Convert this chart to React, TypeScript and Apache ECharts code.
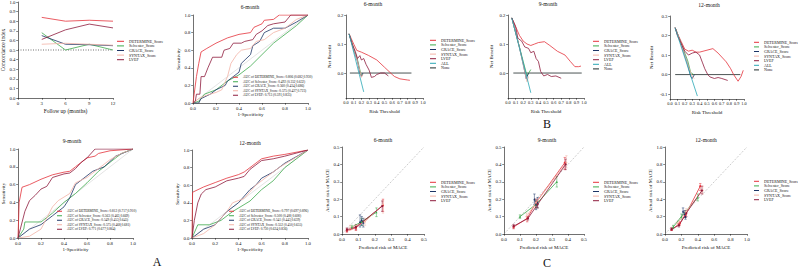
import React, { useEffect, useRef } from "react";
import * as echarts from "echarts";

const FONT = '"Liberation Serif", "Times New Roman", serif';

// ---------- colours ----------
const C_DET = "#e5323b";
const C_SEL = "#3daa4c";
const C_GRA = "#1d3566";
const C_SYN = "#f3b3a6";
const C_LVEF = "#8e1b3c";
const C_ALL = "#2aa7b5";
const C_NONE = "#1e2a2a";

// ---------- names ----------
const modelNames = ["DETERMINE_Score", "Selvester_Score", "GRACE_Score", "SYNTAX_Score", "LVEF"];
const dcaNames = ["DETERMINE_Score", "Selvester_Score", "GRACE_Score", "SYNTAX_Score", "LVEF", "ALL", "None"];
const roc6Names = [
  "AUC of DETERMINE_Score: 0.806 (0.682,0.930)",
  "AUC of Selvester_Score: 0.492 (0.352,0.632)",
  "AUC of GRACE_Score: 0.560 (0.434,0.686)",
  "AUC of SYNTAX_Score: 0.575 (0.427,0.723)",
  "AUC of LVEF: 0.713 (0.591,0.835)",
];
const roc9Names = [
  "AUC of DETERMINE_Score: 0.812 (0.717,0.910)",
  "AUC of Selvester_Score: 0.563 (0.463,0.669)",
  "AUC of GRACE_Score: 0.549 (0.453,0.645)",
  "AUC of SYNTAX_Score: 0.575 (0.468,0.681)",
  "AUC of LVEF: 0.771 (0.677,0.864)",
];
const roc12Names = [
  "AUC of DETERMINE_Score: 0.797 (0.697,0.896)",
  "AUC of Selvester_Score: 0.500 (0.400,0.600)",
  "AUC of GRACE_Score: 0.541 (0.443,0.639)",
  "AUC of SYNTAX_Score: 0.552 (0.450,0.655)",
  "AUC of LVEF: 0.730 (0.624,0.836)",
];

// ---------- tick values ----------
const dcaXTicks = [0, 0.1, 0.2, 0.3, 0.4, 0.5, 0.6, 0.7, 0.8, 0.9, 1.0];
const dcaYTicks = [0, 0.1, 0.2];
const dca12YTicks = [-0.1, 0, 0.1, 0.2, 0.3];

// ---------- concordance index ----------
const cMonths = [3, 6, 9, 12];
const cDetermine = [0.84, 0.8, 0.81, 0.8];
const cSelvester = [0.68, 0.5, 0.56, 0.5];
const cGrace = [0.65, 0.56, 0.555, 0.545];
const cSyntax = [0.56, 0.57, 0.56, 0.55];
const cLvef = [0.61, 0.71, 0.77, 0.73];
const cRef = [[0, 0.5], [12, 0.5]];

// ---------- ROC 6-month ----------
const roc6Det = [[0,0],[0.01,0.1],[0.03,0.3],[0.05,0.45],[0.07,0.58],[0.12,0.62],[0.2,0.68],[0.3,0.74],[0.4,0.78],[0.5,0.8],[0.53,0.86],[0.6,0.9],[0.62,0.94],[0.7,0.95],[0.75,1],[1,1]];
const roc6Sel = [[0,0],[0.05,0.02],[0.1,0.1],[0.2,0.15],[0.3,0.25],[0.4,0.32],[0.5,0.42],[0.6,0.55],[0.7,0.68],[0.8,0.78],[0.9,0.88],[1,1]];
const roc6Gra = [[0,0],[0.05,0],[0.07,0.05],[0.15,0.1],[0.2,0.15],[0.28,0.2],[0.3,0.25],[0.35,0.3],[0.4,0.35],[0.42,0.45],[0.46,0.5],[0.5,0.55],[0.52,0.65],[0.58,0.7],[0.62,0.8],[0.7,0.85],[0.8,0.85],[0.9,0.92],[1,1]];
const roc6Syn = [[0,0],[0.05,0.05],[0.1,0.08],[0.2,0.12],[0.25,0.15],[0.3,0.3],[0.33,0.45],[0.38,0.55],[0.42,0.6],[0.5,0.62],[0.55,0.7],[0.62,0.72],[0.7,0.8],[0.8,0.85],[0.9,0.95],[1,1]];
const roc6Lvef = [[0,0],[0.02,0.02],[0.03,0.1],[0.06,0.1],[0.07,0.3],[0.1,0.3],[0.13,0.4],[0.17,0.52],[0.25,0.52],[0.27,0.6],[0.32,0.62],[0.35,0.68],[0.42,0.68],[0.45,0.7],[0.52,0.72],[0.55,0.78],[0.6,0.82],[0.65,0.88],[0.7,0.9],[0.8,0.92],[0.85,1],[1,1]];

// ---------- ROC 9-month ----------
const roc9Det = [[0,0],[0.01,0.4],[0.035,0.57],[0.1,0.6],[0.2,0.66],[0.3,0.71],[0.4,0.74],[0.45,0.75],[0.5,0.8],[0.55,0.85],[0.6,0.9],[0.67,0.92],[0.7,0.95],[0.8,0.98],[1,1]];
const roc9Sel = [[0,0],[0.05,0.1],[0.06,0.18],[0.2,0.18],[0.3,0.28],[0.4,0.4],[0.5,0.5],[0.6,0.62],[0.7,0.75],[0.8,0.85],[0.9,0.95],[1,1]];
const roc9Gra = [[0,0],[0.1,0.1],[0.2,0.15],[0.3,0.25],[0.4,0.35],[0.45,0.45],[0.5,0.6],[0.55,0.65],[0.65,0.75],[0.75,0.8],[0.85,0.92],[1,1]];
const roc9Syn = [[0,0],[0.1,0.02],[0.2,0.1],[0.3,0.35],[0.35,0.42],[0.45,0.5],[0.5,0.62],[0.6,0.68],[0.7,0.78],[0.8,0.88],[0.9,0.95],[1,1]];
const roc9Lvef = [[0,0],[0.02,0.1],[0.06,0.3],[0.1,0.42],[0.15,0.48],[0.2,0.55],[0.25,0.58],[0.3,0.68],[0.4,0.72],[0.45,0.73],[0.5,0.78],[0.55,0.85],[0.6,0.9],[0.67,1],[1,1]];

// ---------- ROC 12-month ----------
const roc12Det = [[0,0],[0.005,0.52],[0.1,0.58],[0.2,0.63],[0.3,0.68],[0.4,0.72],[0.45,0.75],[0.5,0.8],[0.55,0.85],[0.6,0.9],[0.7,0.93],[0.8,0.95],[1,1]];
const roc12Sel = [[0,0],[0.05,0.15],[0.15,0.15],[0.25,0.2],[0.35,0.3],[0.5,0.42],[0.6,0.55],[0.7,0.65],[0.8,0.8],[0.9,0.9],[1,1]];
const roc12Gra = [[0,0],[0.1,0.1],[0.2,0.15],[0.3,0.3],[0.4,0.4],[0.5,0.55],[0.55,0.6],[0.6,0.68],[0.7,0.75],[0.8,0.85],[1,1]];
const roc12Syn = [[0,0],[0.1,0.05],[0.2,0.15],[0.3,0.3],[0.35,0.4],[0.45,0.45],[0.55,0.6],[0.65,0.7],[0.75,0.8],[0.85,0.88],[1,1]];
const roc12Lvef = [[0,0],[0.02,0.2],[0.05,0.4],[0.08,0.5],[0.12,0.55],[0.2,0.58],[0.3,0.65],[0.4,0.68],[0.45,0.7],[0.5,0.78],[0.6,0.88],[0.7,0.9],[0.8,0.93],[1,1]];
const rocDiag = [[0,0],[1,1]];

// ---------- DCA 6-month ----------
const dca6Det = [[0.04,0.135],[0.1,0.1],[0.14,0.078],[0.2,0.072],[0.29,0.061],[0.4,0.045],[0.5,0.02],[0.6,-0.005],[0.63,-0.012],[0.7,-0.02],[0.8,-0.024],[0.83,-0.025]];
const dca6Sel = [[0.04,0.135],[0.1,0.085],[0.15,0.045],[0.19,0.0],[0.21,-0.01]];
const dca6Gra = [[0.04,0.135],[0.1,0.08],[0.15,0.04],[0.18,0.0],[0.2,-0.012],[0.22,0.0]];
const dca6Syn = [[0.04,0.135],[0.1,0.082],[0.15,0.04],[0.2,-0.015],[0.22,-0.005]];
const dca6Lvef = [[0.04,0.135],[0.08,0.1],[0.12,0.075],[0.15,0.05],[0.18,0.06],[0.2,0.045],[0.23,0.05],[0.26,0.03],[0.3,0.01],[0.33,-0.015],[0.37,-0.012],[0.4,-0.005],[0.45,0.0],[0.5,0.0],[0.55,-0.01]];
const dca6All = [[0.04,0.135],[0.23,-0.065]];
const dca6None = [[0.05,0],[0.85,0]];

// ---------- DCA 9-month ----------
const dca9Det = [[0.05,0.19],[0.1,0.16],[0.15,0.13],[0.2,0.11],[0.25,0.1],[0.3,0.095],[0.35,0.1],[0.4,0.105],[0.48,0.108],[0.55,0.095],[0.65,0.075],[0.75,0.062],[0.82,0.04],[0.88,0.022],[0.93,0.022],[0.96,0.024]];
const dca9Sel = [[0.05,0.19],[0.1,0.14],[0.15,0.09],[0.2,0.04],[0.25,-0.01],[0.3,0.012]];
const dca9Gra = [[0.05,0.19],[0.1,0.14],[0.15,0.09],[0.2,0.03],[0.24,-0.02],[0.27,0.0]];
const dca9Syn = [[0.05,0.19],[0.1,0.14],[0.15,0.088],[0.2,0.03],[0.25,-0.03],[0.27,-0.012]];
const dca9Lvef = [[0.05,0.19],[0.1,0.16],[0.13,0.12],[0.18,0.11],[0.22,0.09],[0.27,0.085],[0.3,0.07],[0.34,0.075],[0.37,0.05],[0.4,0.04],[0.43,0.005],[0.47,-0.01],[0.52,-0.005],[0.57,-0.012],[0.63,-0.01],[0.7,-0.018]];
const dca9All = [[0.05,0.19],[0.3,-0.068]];
const dca9None = [[0.07,0],[0.97,0]];

// ---------- DCA 12-month ----------
const dca12Det = [[0.07,0.24],[0.1,0.21],[0.15,0.17],[0.2,0.13],[0.25,0.12],[0.3,0.125],[0.35,0.115],[0.4,0.115],[0.5,0.125],[0.58,0.133],[0.65,0.11],[0.76,0.065],[0.82,0.03],[0.86,0.0],[0.92,-0.034],[0.96,-0.01],[0.99,0.022]];
const dca12Sel = [[0.07,0.24],[0.12,0.19],[0.18,0.13],[0.24,0.07],[0.28,0.01],[0.32,0.0]];
const dca12Gra = [[0.07,0.24],[0.12,0.19],[0.18,0.12],[0.24,0.05],[0.28,-0.01],[0.3,-0.02],[0.33,0.0]];
const dca12Syn = [[0.07,0.24],[0.12,0.19],[0.18,0.12],[0.25,0.04],[0.3,-0.01],[0.33,-0.02]];
const dca12Lvef = [[0.07,0.24],[0.1,0.2],[0.15,0.16],[0.2,0.12],[0.25,0.1],[0.3,0.11],[0.35,0.115],[0.4,0.1],[0.44,0.06],[0.47,0.03],[0.51,0.0],[0.54,-0.012],[0.6,-0.02],[0.65,-0.015],[0.7,-0.02],[0.78,-0.03]];
const dca12All = [[0.067,0.24],[0.37,-0.11]];
const dca12None = [[0.07,0],[0.95,0]];

// ---------- calibration [predicted, observed, lower, upper] ----------
const cal6Det = [[0.03,0.02,0.01,0.03],[0.085,0.035,0.02,0.05],[0.25,0.165,0.13,0.2]];
const cal6Sel = [[0.06,0.04,0.03,0.05],[0.12,0.07,0.05,0.09],[0.21,0.125,0.1,0.15]];
const cal6Gra = [[0.11,0.07,0.04,0.11],[0.12,0.08,0.05,0.1],[0.13,0.065,0.04,0.09]];
const cal6Syn = [[0.05,0.035,0.02,0.05],[0.14,0.07,0.05,0.09],[0.25,0.17,0.12,0.19]];
const cal6Lvef = [[0.03,0.025,0.015,0.035],[0.085,0.04,0.025,0.055],[0.245,0.16,0.13,0.19]];

const cal9Det = [[0.06,0.04,0.03,0.05],[0.145,0.09,0.07,0.1],[0.2,0.18,0.15,0.2],[0.38,0.41,0.37,0.44]];
const cal9Sel = [[0.1,0.1,0.09,0.11],[0.2,0.17,0.15,0.19],[0.33,0.3,0.27,0.33]];
const cal9Gra = [[0.19,0.2,0.17,0.23],[0.2,0.17,0.14,0.2],[0.21,0.18,0.15,0.21]];
const cal9Syn = [[0.14,0.1,0.08,0.12],[0.2,0.18,0.16,0.2],[0.39,0.41,0.38,0.45]];
const cal9Lvef = [[0.06,0.045,0.035,0.055],[0.15,0.09,0.08,0.1],[0.21,0.17,0.15,0.19],[0.385,0.4,0.37,0.43]];

const cal12Det = [[0.08,0.05,0.04,0.07],[0.18,0.12,0.1,0.14],[0.25,0.22,0.19,0.25],[0.43,0.55,0.5,0.58]];
const cal12Sel = [[0.1,0.08,0.06,0.1],[0.2,0.2,0.17,0.23],[0.4,0.42,0.38,0.46]];
const cal12Gra = [[0.22,0.26,0.22,0.3],[0.24,0.23,0.19,0.27],[0.25,0.2,0.17,0.23]];
const cal12Syn = [[0.15,0.12,0.1,0.14],[0.26,0.26,0.23,0.29],[0.46,0.5,0.46,0.55]];
const cal12Lvef = [[0.08,0.055,0.04,0.07],[0.17,0.1,0.08,0.12],[0.26,0.24,0.2,0.27],[0.45,0.5,0.46,0.55]];
const calDiag05 = [[0,0],[0.5,0.5]];
const calDiag1 = [[0,0],[1,1]];

// ---------- helpers ----------
const f1 = (v: number) => v.toFixed(1);
const f0 = (v: number) => String(Math.round(v));

function axis(gi: number, min: number, max: number, interval: number | undefined, name: string, nameGap: number, fmt: any, custom?: number[], labelSize = 4.8, nameSize = 5) {
  const a: any = {
    type: "value", gridIndex: gi, min, max, name, nameLocation: "middle", nameGap,
    nameTextStyle: { fontSize: nameSize, fontFamily: FONT, color: "#111" },
    axisLine: { show: true, onZero: false, lineStyle: { color: "#111", width: 0.6 } },
    axisTick: { show: true, length: 1.8, lineStyle: { color: "#111", width: 0.5 } },
    axisLabel: { fontSize: labelSize, fontFamily: FONT, color: "#111", margin: 2.5, formatter: fmt },
    splitLine: { show: false },
  };
  if (interval !== undefined) a.interval = interval;
  if (custom) {
    a.axisTick.customValues = custom;
    a.axisLabel.customValues = custom;
  }
  return a;
}

function ln(name: string | undefined, data: any[], color: string, gi: number, extra: any = {}) {
  return {
    type: "line", name, data, xAxisIndex: gi, yAxisIndex: gi, symbol: "none", showSymbol: false,
    silent: true, lineStyle: { color, width: 0.8 }, itemStyle: { color }, z: 3, ...extra,
  };
}

function calSeries(name: string, data: number[][], color: string, gi: number, symbol: string) {
  return [
    ln(name, data.map((d) => [d[0], d[1]]), color, gi, { symbol, symbolSize: 2.2, showSymbol: true }),
    {
      type: "custom", xAxisIndex: gi, yAxisIndex: gi, data, silent: true, z: 2,
      encode: { x: 0, y: [1, 2, 3] },
      renderItem: (_p: any, api: any) => {
        const x = api.value(0), lo = api.value(2), hi = api.value(3);
        const a = api.coord([x, lo]);
        const b = api.coord([x, hi]);
        const w = 1.2;
        const st = { stroke: color, lineWidth: 0.5 };
        return {
          type: "group",
          children: [
            { type: "line", shape: { x1: a[0], y1: a[1], x2: b[0], y2: b[1] }, style: st },
            { type: "line", shape: { x1: a[0] - w, y1: a[1], x2: a[0] + w, y2: a[1] }, style: st },
            { type: "line", shape: { x1: b[0] - w, y1: b[1], x2: b[0] + w, y2: b[1] }, style: st },
          ],
        };
      },
    },
  ];
}

function legend(names: string[], left: number, top: number, size = 4, step = 4.6, iw = 7) {
  return {
    data: names, left, top, orient: "vertical", itemWidth: iw, itemHeight: 1, itemGap: 0, icon: "rect",
    padding: 0, selectedMode: false,
    textStyle: { fontSize: size, lineHeight: step, fontFamily: FONT, color: "#111" },
  };
}

function txt(text: string, x: number, y: number, size: number) {
  return {
    type: "text", x, y, silent: true,
    style: { text, fontSize: size, fontFamily: FONT, fill: "#111", align: "center", verticalAlign: "middle" },
  };
}

function buildOption() {
  const grids = [
    { left: 18, top: 2, width: 95, height: 96 },
    { left: 193, top: 15, width: 115, height: 88 },
    { left: 346, top: 15, width: 77, height: 83 },
    { left: 508, top: 15, width: 76, height: 83 },
    { left: 670, top: 16, width: 74, height: 83 },
    { left: 18, top: 149, width: 115, height: 89 },
    { left: 192, top: 150, width: 116, height: 88 },
    { left: 342, top: 147, width: 82, height: 87 },
    { left: 504, top: 147, width: 80, height: 87 },
    { left: 665, top: 147, width: 82, height: 87 },
  ].map((g) => ({ ...g, containLabel: false, outerBoundsMode: "none", show: false }));

  const xAxis = [
    axis(0, 0, 12, 3, "Follow up (months)", 10, f0, undefined, 4.8, 5.5),
    axis(1, 0, 1, 0.2, "1-Specificity", 9, f1),
    axis(2, 0, 1, undefined, "Risk Threshold", 11, f1, dcaXTicks, 4.3),
    axis(3, 0, 1, undefined, "Risk Threshold", 11, f1, dcaXTicks, 4.3),
    axis(4, 0, 1, undefined, "Risk Threshold", 11, f1, dcaXTicks, 4.3),
    axis(5, 0, 1, 0.2, "1-Specificity", 9, f1),
    axis(6, 0, 1, 0.2, "1-Specificity", 9, f1),
    axis(7, 0, 0.5, 0.1, "Predicted risk of MACE", 11, f1),
    axis(8, 0, 0.5, 0.1, "Predicted risk of MACE", 11, f1),
    axis(9, 0, 1, 0.2, "Predicted risk of MACE", 11, f1),
  ];
  const yAxis = [
    axis(0, 0, 1, 0.1, "Concordance index", 11, f1, undefined, 4.8, 5.5),
    axis(1, 0, 1, 0.2, "Sensitivity", 11, f1),
    axis(2, -0.086, 0.2, undefined, "Net Benefit", 14, f1, dcaYTicks),
    axis(3, -0.086, 0.2, undefined, "Net Benefit", 14, f1, dcaYTicks),
    axis(4, -0.125, 0.3, undefined, "Net Benefit", 16, f1, dca12YTicks),
    axis(5, 0, 1, 0.2, "Sensitivity", 11, f1),
    axis(6, 0, 1, 0.2, "Sensitivity", 11, f1),
    axis(7, 0, 0.5, 0.1, "Actual risk of MACE", 12, f1),
    axis(8, 0, 0.5, 0.1, "Actual risk of MACE", 12, f1),
    axis(9, 0, 1, 0.2, "Actual risk of MACE", 12, f1),
  ];

  const z = (xs: number[], ys: number[]) => xs.map((x, i) => [x, ys[i]]);
  const series: any[] = [];
  // C-index
  series.push(ln(undefined, cRef, "#111", 0, { lineStyle: { color: "#111", width: 0.6, type: [1, 1.5] }, z: 1 }));
  series.push(ln("DETERMINE_Score", z(cMonths, cDetermine), C_DET, 0));
  series.push(ln("Selvester_Score", z(cMonths, cSelvester), C_SEL, 0));
  series.push(ln("GRACE_Score", z(cMonths, cGrace), C_GRA, 0));
  series.push(ln("SYNTAX_Score", z(cMonths, cSyntax), C_SYN, 0));
  series.push(ln("LVEF", z(cMonths, cLvef), C_LVEF, 0));

  // ROC
  const rocSets: [number, string[], any[][]][] = [
    [1, roc6Names, [roc6Det, roc6Sel, roc6Gra, roc6Syn, roc6Lvef]],
    [5, roc9Names, [roc9Det, roc9Sel, roc9Gra, roc9Syn, roc9Lvef]],
    [6, roc12Names, [roc12Det, roc12Sel, roc12Gra, roc12Syn, roc12Lvef]],
  ];
  const cols = [C_DET, C_SEL, C_GRA, C_SYN, C_LVEF];
  for (const [gi, names, curves] of rocSets) {
    series.push(ln(undefined, rocDiag, "#c9c9c9", gi, { lineStyle: { color: "#c9c9c9", width: 0.5 }, z: 1 }));
    curves.forEach((c, i) => series.push(ln(names[i], c, cols[i], gi)));
  }

  // DCA
  const dcaSets: [number, any[][]][] = [
    [2, [dca6Det, dca6Sel, dca6Gra, dca6Syn, dca6Lvef, dca6All, dca6None]],
    [3, [dca9Det, dca9Sel, dca9Gra, dca9Syn, dca9Lvef, dca9All, dca9None]],
    [4, [dca12Det, dca12Sel, dca12Gra, dca12Syn, dca12Lvef, dca12All, dca12None]],
  ];
  const dcols = [C_DET, C_SEL, C_GRA, C_SYN, C_LVEF, C_ALL, C_NONE];
  for (const [gi, curves] of dcaSets) {
    curves.forEach((c, i) => series.push(ln(dcaNames[i], c, dcols[i], gi, i === 6 ? { z: 2 } : {})));
  }

  // Calibration
  const calSets: [number, number[][][], number[][]][] = [
    [7, [cal6Det, cal6Sel, cal6Gra, cal6Syn, cal6Lvef], calDiag05],
    [8, [cal9Det, cal9Sel, cal9Gra, cal9Syn, cal9Lvef], calDiag05],
    [9, [cal12Det, cal12Sel, cal12Gra, cal12Syn, cal12Lvef], calDiag1],
  ];
  const syms = ["circle", "triangle", "triangle", "diamond", "circle"];
  for (const [gi, curves, diag] of calSets) {
    series.push(ln(undefined, diag, "#9a9a9a", gi, { lineStyle: { color: "#9a9a9a", width: 0.5, type: [2, 1.5] }, z: 1 }));
    curves.forEach((c, i) => series.push(...calSeries(modelNames[i], c, cols[i], gi, syms[i])));
  }

  const legends = [
    legend(modelNames, 117, 39, 4),
    legend(roc6Names, 233, 75, 3.4, 4.5, 5),
    legend(dcaNames, 430, 38, 4, 4.6, 6),
    legend(dcaNames, 593, 39, 4, 4.6, 6),
    legend(dcaNames, 754, 40, 4, 4.6, 5),
    legend(roc9Names, 57, 209, 3.4, 4.5, 5),
    legend(roc12Names, 229, 209, 3.4, 4.5, 5),
    legend(modelNames, 430, 180, 4, 4.6, 6),
    legend(modelNames, 593, 180, 4, 4.6, 6),
    legend(modelNames, 754, 179, 4, 4.6, 5),
  ];

  const graphic = [
    txt("6-month", 250, 7, 5.5),
    txt("6-month", 373, 4, 5.5),
    txt("9-month", 548, 4, 5.5),
    txt("12-month", 709, 5, 5.5),
    txt("9-month", 72, 141, 5.5),
    txt("12-month", 250, 143, 5.5),
    txt("6-month", 383, 140, 5.5),
    txt("9-month", 547, 140, 5.5),
    txt("12-month", 706, 140, 5.5),
    txt("A", 157, 262, 12),
    txt("B", 547, 124, 12),
    txt("C", 547, 263, 12),
  ];

  return {
    animation: false,
    backgroundColor: "#fff",
    grid: grids,
    xAxis,
    yAxis,
    legend: legends,
    series,
    graphic,
  };
}

export default function App() {
  const ref = useRef<HTMLDivElement>(null);
  useEffect(() => {
    const chart = echarts.init(ref.current!, null, { renderer: "svg" });
    chart.setOption(buildOption() as any);
    return () => chart.dispose();
  }, []);
  return (
    <div
      ref={ref}
      style={{ position: "fixed", left: 0, top: 0, width: 798, height: 269, background: "#fff" }}
    />
  );
}
